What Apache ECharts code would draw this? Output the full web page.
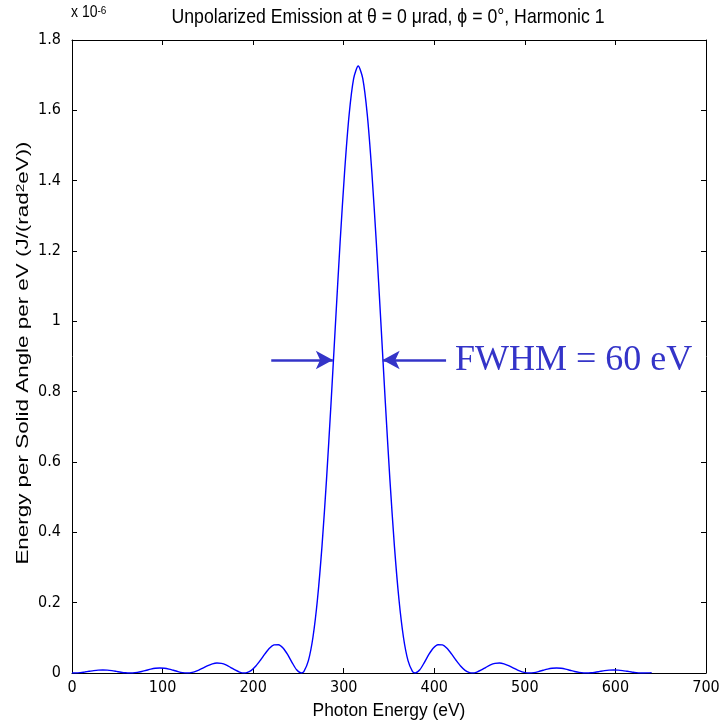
<!DOCTYPE html>
<html><head><meta charset="utf-8">
<script src="https://cdn.jsdelivr.net/npm/echarts@6/dist/echarts.min.js"></script>
<style>html,body{margin:0;padding:0;background:#fff}#c{width:723px;height:724px}</style>
</head><body><div id="c"></div>
<script>
// Photon energy (eV)
const energies = [0,1,4,9,14,19,24,29,34,39,44,49,54,59,64,
67,72,77,82,87,92,97,102,107,112,117,122,127,
130,135,140,145,150,155,160,165,170,175,180,185,190,
193,198,203,208,213,218,223,228,233,238,243,248,253,
256,261,266,271,276,281,286,291,296,301,306,311,316,321,326,331,336,341,346,351,356,361,366,371,376,379,
384,389,394,399,404,409,414,419,424,429,434,439,442,
447,452,457,462,467,472,477,482,487,492,497,502,505,
510,515,520,525,530,535,540,545,550,555,560,565,568,
573,578,583,588,593,598,603,608,613,618,623,628,631,636,640];
// Energy per solid angle per eV (x 1e-6)
const values = [0,0,0.0001,0.0011,0.0028,0.0048,0.0068,0.0082,0.0087,0.0081,0.0066,0.0045,0.0023,0.0006,0,
0.0002,0.0018,0.0044,0.0077,0.0110,0.0134,0.0144,0.0136,0.0112,0.0077,0.0040,0.0011,0,
0.0004,0.0032,0.0082,0.0145,0.0209,0.0260,0.0284,0.0273,0.0230,0.0161,0.0086,0.0025,0,
0.0010,0.0076,0.0198,0.0363,0.0543,0.0701,0.0798,0.0805,0.0711,0.0527,0.0298,0.0091,0,
0.004,0.035,0.101,0.209,0.360,0.550,0.767,0.998,1.224,1.426,1.588,1.691,1.726,1.691,1.588,1.426,1.224,0.998,0.767,0.550,0.360,0.209,0.101,0.035,0.004,0,
0.0091,0.0298,0.0527,0.0711,0.0805,0.0798,0.0701,0.0543,0.0363,0.0198,0.0076,0.0010,0,
0.0025,0.0086,0.0161,0.0230,0.0273,0.0284,0.0260,0.0209,0.0145,0.0082,0.0032,0.0004,0,
0.0011,0.0040,0.0077,0.0112,0.0136,0.0144,0.0134,0.0110,0.0077,0.0044,0.0018,0.0002,0,
0.0006,0.0023,0.0045,0.0066,0.0081,0.0087,0.0082,0.0068,0.0048,0.0028,0.0011,0.0001,0,0.0004,0.0012];
const xTicks = [0,100,200,300,400,500,600,700];
const yTicks = [0,0.2,0.4,0.6,0.8,1,1.2,1.4,1.6,1.8];
// FWHM annotation (data units)
const fwhmLevel = 0.89;
const leftArrow = [220, 288];
const rightArrow = [413, 343];
const fwhmText = 'FWHM = 60 eV';

const chart = echarts.init(document.getElementById('c'));
const font = "'Liberation Sans', Arial, sans-serif";
const narrow = "'Liberation Sans Narrow', 'DejaVu Sans Condensed', sans-serif";
const annColor = '#3434c8';
const axisCommon = {
  axisLine: {show: true, onZero: false, lineStyle: {color: '#000', width: 1}},
  axisTick: {show: true, inside: true, length: 5, lineStyle: {color: '#000'}},
  splitLine: {show: false}
};
const data = energies.map((e, i) => [e, values[i]]);
chart.setOption({
  animation: false,
  backgroundColor: '#fff',
  grid: {left: 72, right: 17, top: 40, bottom: 51},
  xAxis: [
    Object.assign({type: 'value', min: xTicks[0], max: xTicks[xTicks.length-1], interval: 100, position: 'bottom',
      axisLabel: {color: '#000', fontSize: 16, fontFamily: narrow, margin: 7}}, axisCommon),
    Object.assign({type: 'value', min: xTicks[0], max: xTicks[xTicks.length-1], interval: 100, position: 'top',
      axisLabel: {show: false}}, axisCommon)
  ],
  yAxis: [
    Object.assign({type: 'value', min: yTicks[0], max: yTicks[yTicks.length-1], interval: 0.2, position: 'left',
      axisLabel: {color: '#000', fontSize: 16, fontFamily: narrow, margin: 11,
        formatter: v => String(+v.toFixed(1))}}, axisCommon),
    Object.assign({type: 'value', min: yTicks[0], max: yTicks[yTicks.length-1], interval: 0.2, position: 'right',
      axisLabel: {show: false}}, axisCommon)
  ],
  series: [{
    type: 'line', data: data, showSymbol: false, smooth: 0.25,
    lineStyle: {color: '#0000ff', width: 1.4},
    markLine: {
      silent: true, symbol: ['none', 'arrow'], symbolSize: [14, 17],
      lineStyle: {color: annColor, width: 2.5, type: 'solid'},
      label: {show: false},
      data: [
        [{coord: [leftArrow[0], fwhmLevel]}, {coord: [leftArrow[1], fwhmLevel]}],
        [{coord: [rightArrow[0], fwhmLevel]}, {coord: [rightArrow[1], fwhmLevel]}]
      ]
    }
  }]
});
const p = chart.convertToPixel({xAxisIndex: 0, yAxisIndex: 0}, [rightArrow[0], fwhmLevel]);
chart.setOption({graphic: [
  {type: 'text', x: 388, y: 17, style: {text: 'Unpolarized Emission at θ = 0 μrad, ϕ = 0°, Harmonic 1',
    fill: '#000', font: "17px " + font, align: 'center', verticalAlign: 'middle'}, scaleX: 1.04, scaleY: 1.2},
  {type: 'text', x: 389, y: 711, style: {text: 'Photon Energy (eV)', fill: '#000', font: "15px " + font,
    align: 'center', verticalAlign: 'middle'}, scaleX: 1.16, scaleY: 1.2},
  {type: 'text', x: 71, y: 5, style: {text: 'x 10{s|-6}', fill: '#000', font: "14px " + font,
    rich: {s: {fontSize: 10, fontFamily: font, lineHeight: 9, verticalAlign: 'top', fill: '#000'}}}, scaleY: 1.15},
  {type: 'text', x: 23, y: 353, rotation: Math.PI / 2, scaleX: 1.4, scaleY: 1.05,
    style: {text: 'Energy per Solid Angle per eV (J/(rad{s|2}eV))', fill: '#000', font: "16px " + font,
      align: 'center', verticalAlign: 'middle',
      rich: {s: {fontSize: 11, fontFamily: font, lineHeight: 10, verticalAlign: 'top', fill: '#000'}}}},
  {type: 'text', x: p[0] + 9, y: p[1] + 1,
    style: {text: fwhmText, fill: annColor, font: "36px 'Liberation Serif', 'Times New Roman', serif",
      verticalAlign: 'middle'}}
]});
</script></body></html>
